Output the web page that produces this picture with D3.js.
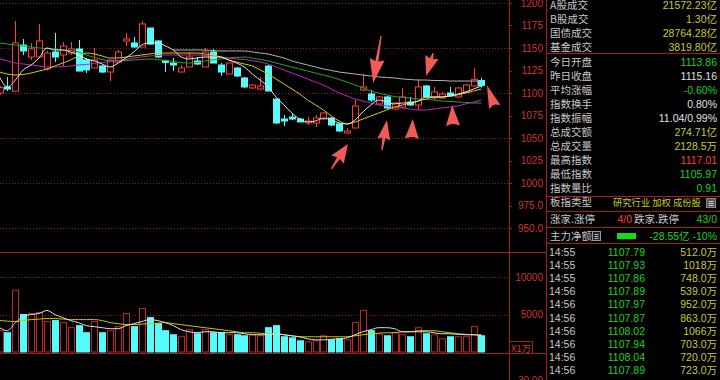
<!DOCTYPE html>
<html>
<head>
<meta charset="utf-8">
<script src="https://cdn.jsdelivr.net/npm/d3@7/dist/d3.min.js"></script>
<style>
html, body { margin: 0; padding: 0; background: #000; overflow: hidden; }
svg { display: block; }
text { font-family: "Liberation Sans", Arial, "Noto Sans CJK SC", sans-serif; }
.cn { font-family: "Noto Sans CJK SC", "Liberation Sans", sans-serif; }
</style>
</head>
<body>
<script>
// daily candles (oldest first)
var opens = [1100, 1106.7, 1102, 1153.3, 1140, 1140, 1126.7, 1145.6, 1142.2, 1144.4,
	1148.9, 1136.7, 1127.8, 1130, 1123.3, 1134.4, 1157.8, 1155.6, 1151.1, 1172.2,
	1157.8, 1136, 1133.3, 1123.3, 1128.9, 1135.6, 1128.9, 1145.6, 1131.1, 1121.1,
	1127.8, 1116.7, 1105.6, 1104.4, 1130, 1093.3, 1071.1, 1073.3, 1071.1, 1066.7,
	1066.7, 1071.1, 1072.2, 1065.6, 1055.6, 1061.1, 1103.3, 1098.9, 1087.8, 1095.6,
	1082.2, 1084.4, 1090, 1086.7, 1107.8, 1094.4, 1094.4, 1100, 1095.6, 1101.1,
	1107.8, 1113.86]
var highs = [1108, 1117.8, 1180, 1160, 1155.6, 1176.7, 1146.7, 1166.7, 1156.7, 1156.7,
	1158.9, 1138.9, 1150, 1131, 1136.7, 1147.8, 1166.7, 1162.2, 1180, 1172.2,
	1158.9, 1137, 1138.9, 1131.1, 1145.6, 1140, 1150, 1148.9, 1133.3, 1133.3,
	1128.9, 1117.8, 1110, 1117.8, 1131, 1093.3, 1075.6, 1077.8, 1072.2, 1073.3,
	1075.6, 1078.9, 1073.3, 1066.7, 1061.1, 1092.2, 1121.1, 1103.3, 1096.7, 1096.7,
	1090, 1105.6, 1095.6, 1115.6, 1108.9, 1106.7, 1101.1, 1106.7, 1106.7, 1110,
	1127.8, 1117.01]
var lows = [1098, 1102.2, 1102, 1142, 1136.7, 1140, 1125, 1134.4, 1130, 1142.2,
	1124.4, 1122.2, 1127.8, 1122.2, 1113.3, 1134.4, 1152.2, 1150, 1151.1, 1153.3,
	1138.9, 1123.3, 1124.4, 1123.3, 1128.9, 1131.1, 1128.9, 1133.3, 1118.9, 1121.1,
	1117.8, 1105.6, 1104.4, 1103.3, 1102.2, 1065.6, 1063.3, 1070, 1067.8, 1064.4,
	1062.2, 1070, 1063.3, 1056.7, 1054.4, 1061.1, 1102.2, 1090, 1086.7, 1082.2,
	1081.1, 1083.3, 1085.6, 1081.1, 1095.6, 1092.2, 1093.3, 1095.6, 1094.4, 1100,
	1106.7, 1105.97]
var closes = [1106, 1104.4, 1155.6, 1146.7, 1149, 1157.8, 1144.4, 1140, 1152.2, 1148.9,
	1124.4, 1125.6, 1136.7, 1123.3, 1136.7, 1145.6, 1160, 1151.1, 1176.7, 1154.4,
	1140, 1134, 1131.1, 1127.8, 1140, 1132.2, 1145.6, 1133.3, 1123.3, 1133.3,
	1118.9, 1106.7, 1108.9, 1107.8, 1102.2, 1066.7, 1068.9, 1071.1, 1067.8, 1068.9,
	1072.2, 1077.8, 1064.4, 1057.8, 1057.8, 1085.6, 1106.7, 1092.2, 1095.6, 1083.3,
	1088.9, 1095.6, 1086.7, 1106.7, 1095.6, 1101.1, 1098.9, 1096.7, 1105.6, 1108.9,
	1115.16, 1108.47]
// volume, in 10k shares
var volumes = [2840, 2570, 8240, 5000, 5130, 5270, 4050, 4190, 3920, 3240,
	3510, 2570, 4050, 2570, 2840, 3380, 5130, 3380, 5810, 4590,
	3780, 2840, 2300, 2030, 2970, 2430, 2970, 2570, 2570, 2300,
	2300, 2160, 2300, 2160, 3240, 3510, 2030, 1890, 1490, 1350,
	1490, 2160, 1620, 1760, 1620, 3920, 5540, 2840, 2430, 2160,
	2570, 2300, 2030, 3240, 2430, 2300, 1760, 2030, 2030, 2030,
	3380, 2160]

// moving average lines as drawn
var ma5 = [1117.8, 1106.7, 1114.4, 1125.6, 1131.1, 1138.9, 1150, 1147.8, 1147.8, 1145.6,
	1142.2, 1137.8, 1135.6, 1132.2, 1128.9, 1133.3, 1138.9, 1145.6, 1153.3, 1155.6,
	1155.6, 1152.2, 1147.8, 1140, 1137.8, 1138.9, 1140, 1140, 1140, 1136.7,
	1133.3, 1128.9, 1121.1, 1114.4, 1106.7, 1095.6, 1086.7, 1077.8, 1071.1, 1067.8,
	1068.9, 1072.2, 1070, 1066.7, 1065.6, 1070, 1078.9, 1086.7, 1092.2, 1090,
	1087.8, 1088.9, 1088.9, 1091.1, 1095.6, 1095.6, 1095.6, 1096.7, 1098.9, 1101.1,
	1104.4, 1107.8]
var ma10 = [1123.3, 1121.1, 1120, 1120.6, 1122.2, 1124.4, 1126.7, 1130, 1133.3, 1136.7,
	1141.1, 1144.4, 1143.3, 1141.1, 1138.9, 1138.9, 1140, 1141.1, 1142.2, 1143.3,
	1144.4, 1144.4, 1144.4, 1144.4, 1144.4, 1144.4, 1143.3, 1142.2, 1140, 1136.7,
	1134.4, 1132.2, 1130, 1125.6, 1121.1, 1115.6, 1110, 1104.4, 1098.9, 1092.2,
	1086.7, 1081.1, 1074.4, 1068.9, 1065.6, 1067.8, 1071.1, 1074.4, 1077.8, 1081.1,
	1084.4, 1086.7, 1088.9, 1091.1, 1093.3, 1095.6, 1095.6, 1096.7, 1097.8, 1100,
	1102.2, 1104.4]
var ma20 = [1137.8, 1135.6, 1133.3, 1132.2, 1131.1, 1130, 1128.9, 1128.9, 1129.4, 1130,
	1131.1, 1131.7, 1132.8, 1133.9, 1135, 1136.1, 1137.2, 1138.9, 1140, 1141.1,
	1141.7, 1142.2, 1142.2, 1142.2, 1142.2, 1142.2, 1141.7, 1141.1, 1140, 1138.9,
	1137.8, 1137.2, 1136.1, 1134.4, 1132.2, 1128.9, 1125.6, 1122.2, 1118.9, 1115.6,
	1112.2, 1108.9, 1104.4, 1100, 1096.7, 1093.3, 1091.1, 1088.9, 1086.7, 1085.6,
	1084.4, 1083.3, 1082.2, 1081.1, 1081.1, 1082.2, 1083.3, 1084.4, 1085.6, 1087.8,
	1090, 1092.2]
var ma30 = [1155.6, 1154.4, 1153.3, 1152.2, 1151.1, 1150, 1149.4, 1148.9, 1147.8, 1147.2,
	1145.6, 1142.2, 1139.4, 1137.2, 1135.6, 1135.6, 1136.1, 1136.7, 1137.2, 1137.8,
	1137.2, 1136.1, 1135, 1133.9, 1133.3, 1133.9, 1135.6, 1136.7, 1137.8, 1138.9,
	1139.4, 1140, 1138.9, 1137.2, 1135.6, 1133.3, 1131.1, 1128.9, 1126.7, 1124.4,
	1122.2, 1120, 1117.8, 1115, 1112.2, 1108.9, 1105.6, 1102.2, 1100, 1097.8,
	1096.1, 1095, 1094.4, 1093.3, 1092.8, 1092.2, 1091.1, 1090.6, 1090, 1089.4,
	1088.9, 1088.9]
var ma60 = [null, null, null, null, null, null, null, null, null, null,
	null, null, null, null, null, null, null, null, null, null,
	null, null, 1147.8, 1147.8, 1147.8, 1147.8, 1147.8, 1147.2, 1146.7, 1146.7,
	1146.7, 1146.7, 1145.6, 1144.4, 1143.3, 1141.1, 1138.9, 1135.6, 1133.3, 1131.1,
	1128.9, 1126.7, 1125, 1123.3, 1122.2, 1121.1, 1120, 1118.9, 1117.8, 1117.2,
	1116.7, 1115.6, 1115, 1114.4, 1114.4, 1113.9, 1113.9, 1113.3, 1113.3, 1113.3,
	1113.3, 1113.3]
var volMa5 = [3240, 2840, 3920, 4730, 5000, 5130, 5540, 5000, 4590, 4190,
	3920, 3510, 3380, 3240, 3110, 3110, 3510, 3780, 4050, 4320,
	4190, 3920, 3510, 2970, 2700, 2570, 2700, 2700, 2570, 2570,
	2570, 2430, 2300, 2300, 2300, 2430, 2300, 2160, 2030, 1760,
	1620, 1620, 1690, 1760, 1890, 2300, 2700, 2970, 3240, 3240,
	3110, 2700, 2700, 2700, 2700, 2570, 2430, 2430, 2360, 2300,
	2300, 2160]
var volMa10 = [4190, 4120, 4050, 4190, 4320, 4390, 4460, 4460, 4390, 4320,
	4320, 4320, 4320, 4190, 3920, 3780, 3650, 3650, 3720, 3780,
	3850, 3920, 3780, 3650, 3510, 3380, 3240, 3110, 2970, 2840,
	2700, 2570, 2570, 2500, 2430, 2430, 2300, 2160, 2030, 2030,
	2030, 2030, 2030, 2030, 2030, 2160, 2300, 2430, 2500, 2570,
	2570, 2700, 2700, 2840, 2840, 2840, 2700, 2570, 2430, 2360,
	2300, 2300]

var priceTicks = [1200, 1175, 1150, 1125, 1100, 1075, 1050, 1025, 1000, 975, 950]
var priceGrid = [1200, 1150, 1100, 1050, 1000, 950]
var volTicks = [10000, 5000]

// hand drawn arrows: [candle index, price] of tail and tip
var arrows = [
	{ tail: [48.3, 1163.3], tip: [47.3, 1111.1], head: 22, width: 15 },
	{ tail: [54.9, 1144.4], tip: [54.0, 1118.9], head: 18, width: 14 },
	{ tail: [42.0, 1015.6], tip: [44.1, 1043.3], head: 17, width: 15 },
	{ tail: [48.4, 1036.7], tip: [49.05, 1070.0], head: 18, width: 13 },
	{ tail: [52.2, 1051.1], tip: [52.3, 1071.1], head: 20, width: 14 },
	{ tail: [57.4, 1065.6], tip: [57.3, 1086.7], head: 21, width: 14 },
	{ tail: [62.6, 1086.7], tip: [61.7, 1108.9], head: 22, width: 12 }
]

// right hand quote panel
var marketNames = ['A股成交', 'B股成交', '国债成交', '基金成交']
var marketValues = ['21572.23亿', '1.30亿', '28764.28亿', '3819.80亿']
var statNames = ['今日开盘', '昨日收盘', '平均涨幅', '指数换手', '指数振幅', '总成交额', '总成交量', '最高指数', '最低指数', '指数量比']
var statValues = ['1113.86', '1115.16', '-0.60%', '0.80%', '11.04/0.99%', '274.71亿', '2128.5万', '1117.01', '1105.97', '0.91']
var statTones = ['down', 'flat', 'down', 'flat', 'flat', 'amount', 'amount', 'up', 'down', 'down']
var tradeTimes = ['14:55', '14:55', '14:55', '14:56', '14:56', '14:56', '14:56', '14:56', '14:56', '14:56']
var tradePrices = [1107.79, 1107.93, 1107.86, 1107.89, 1107.97, 1107.87, 1108.02, 1107.94, 1108.04, 1107.89]
var tradeVols = ['512.0万', '1018万', '748.0万', '539.0万', '952.0万', '863.0万', '1066万', '703.0万', '720.0万', '723.0万']

var RED = '#ff3c3c'
var CYAN = '#54fcfc'
var LINE = '#a41c1c'
var tones = { up: '#ff3c3c', down: '#1ed21e', flat: '#e0e0e0', amount: '#c8c83c' }

var svg = d3.select('body').append('svg')
	.attr('width', 720)
	.attr('height', 380)

var x = d3.scaleLinear().domain([0, closes.length - 1]).range([-0.45, 481.4])
var y = d3.scaleLinear().domain([950, 1200]).range([228, 3])
var yv = d3.scaleLinear().domain([0, 10000]).range([352, 277])
var bw = 6

svg.append('defs').append('clipPath').attr('id', 'plot')
	.append('rect').attr('x', 0).attr('y', 0).attr('width', 508).attr('height', 380)

var plot = svg.append('g').attr('clip-path', 'url(#plot)')

// dotted grid
plot.selectAll('line.grid').data(priceGrid).enter().append('line')
	.attr('x1', 0).attr('x2', 509)
	.attr('y1', function(d) { return Math.round(y(d)) + 0.5 })
	.attr('y2', function(d) { return Math.round(y(d)) + 0.5 })
	.attr('stroke', '#8a2020').attr('stroke-dasharray', '1,2')
plot.selectAll('line.vgrid').data(volTicks).enter().append('line')
	.attr('x1', 0).attr('x2', 509)
	.attr('y1', function(d) { return Math.round(yv(d)) + 0.5 })
	.attr('y2', function(d) { return Math.round(yv(d)) + 0.5 })
	.attr('stroke', '#8a2020').attr('stroke-dasharray', '1,2')

var idx = d3.range(closes.length)
function isUp(i) { return closes[i] >= opens[i] }

// candles
var candles = plot.append('g').selectAll('g').data(idx).enter().append('g')
candles.append('line')
	.attr('x1', function(i) { return Math.round(x(i)) + 0.5 })
	.attr('x2', function(i) { return Math.round(x(i)) + 0.5 })
	.attr('y1', function(i) { return y(highs[i]) })
	.attr('y2', function(i) { return y(lows[i]) })
	.attr('stroke', function(i) { return isUp(i) ? RED : CYAN })
candles.append('rect')
	.attr('x', function(i) { return Math.round(x(i)) - bw / 2 + 0.5 })
	.attr('y', function(i) { return y(Math.max(opens[i], closes[i])) })
	.attr('width', bw)
	.attr('height', function(i) { return Math.max(1, Math.abs(y(opens[i]) - y(closes[i]))) })
	.attr('fill', function(i) { return isUp(i) ? '#000' : CYAN })
	.attr('stroke', function(i) { return isUp(i) ? RED : CYAN })

// moving averages
var maLines = [
	{ values: ma60, color: '#b4b4b4' },
	{ values: ma30, color: '#1fa81f' },
	{ values: ma20, color: '#c81ec8' },
	{ values: ma10, color: '#d2d200' },
	{ values: ma5, color: '#e6e6e6' }
]
var priceLine = d3.line()
	.defined(function(d) { return d != null })
	.x(function(d, i) { return x(i) })
	.y(function(d) { return y(d) })
	.curve(d3.curveMonotoneX)
plot.selectAll('path.ma').data(maLines).enter().append('path')
	.attr('d', function(d) { return priceLine(d.values) })
	.attr('fill', 'none')
	.attr('stroke', function(d) { return d.color })
	.attr('stroke-width', 1)

// volume bars
plot.append('g').selectAll('rect').data(idx).enter().append('rect')
	.attr('x', function(i) { return Math.round(x(i)) - bw / 2 + 0.5 })
	.attr('y', function(i) { return yv(volumes[i]) })
	.attr('width', bw)
	.attr('height', function(i) { return yv(0) - yv(volumes[i]) })
	.attr('fill', function(i) { return isUp(i) ? '#000' : CYAN })
	.attr('stroke', function(i) { return isUp(i) ? '#c02828' : CYAN })

var volLine = d3.line()
	.x(function(d, i) { return x(i) })
	.y(function(d) { return yv(d) })
	.curve(d3.curveMonotoneX)
plot.selectAll('path.vma').data([{ values: volMa10, color: '#c8c800' }, { values: volMa5, color: '#e0e0e0' }])
	.enter().append('path')
	.attr('d', function(d) { return volLine(d.values) })
	.attr('fill', 'none')
	.attr('stroke', function(d) { return d.color })

// arrows
function arrowPath(a) {
	var x1 = x(a.tail[0]), y1 = y(a.tail[1]), x2 = x(a.tip[0]), y2 = y(a.tip[1])
	var len = Math.hypot(x2 - x1, y2 - y1)
	var ux = (x2 - x1) / len, uy = (y2 - y1) / len
	var nx = -uy, ny = ux
	var head = Math.min(a.head, len)
	var bx = x2 - ux * head, by = y2 - uy * head
	var wx = x2 - ux * head * 1.1, wy = y2 - uy * head * 1.1
	var s = 1.6, t = 0.6
	var p = []
	if (len - head > 1) {
		p.push([x1 + nx * t, y1 + ny * t])
		p.push([bx + nx * s, by + ny * s])
	} else {
		p.push([bx + nx * s, by + ny * s])
	}
	p.push([wx + nx * a.width / 2, wy + ny * a.width / 2])
	p.push([x2, y2])
	p.push([wx - nx * a.width / 2, wy - ny * a.width / 2])
	p.push([bx - nx * s, by - ny * s])
	if (len - head > 1) p.push([x1 - nx * t, y1 - ny * t])
	return 'M' + p.map(function(q) { return q[0].toFixed(1) + ',' + q[1].toFixed(1) }).join('L') + 'Z'
}
svg.selectAll('path.arrow').data(arrows).enter().append('path')
	.attr('d', arrowPath)
	.attr('fill', '#f25a5a')

// frame lines
var frame = svg.append('g').attr('stroke', LINE).attr('shape-rendering', 'crispEdges')
frame.append('line').attr('x1', 509.5).attr('x2', 509.5).attr('y1', 0).attr('y2', 380)
frame.append('line').attr('x1', 546.5).attr('x2', 546.5).attr('y1', 0).attr('y2', 380)
frame.append('line').attr('x1', 0).attr('x2', 547).attr('y1', 252.5).attr('y2', 252.5)
frame.append('line').attr('x1', 0).attr('x2', 547).attr('y1', 353.5).attr('y2', 353.5)
frame.append('rect').attr('x', 509.5).attr('y', 341.5).attr('width', 23).attr('height', 12).attr('fill', 'none')
frame.selectAll('line.rule').data([53.5, 196.5, 211.5, 227.5, 243.5]).enter().append('line')
	.attr('x1', 546).attr('x2', 720)
	.attr('y1', function(d) { return d }).attr('y2', function(d) { return d })

// axis labels
var fmtPrice = function(v) { return v >= 1000 ? d3.format('d')(v) : d3.format('.1f')(v) }
var axis = svg.append('g').attr('font-size', 10).attr('fill', '#d23232').attr('text-anchor', 'end')
axis.selectAll('text.p').data(priceTicks).enter().append('text')
	.attr('x', 543).attr('y', function(d) { return y(d) + 3.5 })
	.text(fmtPrice)
axis.selectAll('text.v').data(volTicks).enter().append('text')
	.attr('x', 543).attr('y', function(d) { return yv(d) + 3.5 })
	.text(function(d) { return d })
axis.append('text').attr('x', 543).attr('y', 384).text('30.00')
axis.append('text').attr('class', 'cn').attr('x', 521).attr('y', 351.5).attr('text-anchor', 'middle')
	.attr('font-size', 9.5).text('X1万')
svg.append('g').attr('stroke', LINE).selectAll('line').data(priceTicks).enter().append('line')
	.attr('x1', 509).attr('x2', 512)
	.attr('y1', function(d) { return Math.round(y(d)) + 0.5 })
	.attr('y2', function(d) { return Math.round(y(d)) + 0.5 })

// quote panel
var panel = svg.append('g').attr('font-size', 10.5)
panel.selectAll('text.mn').data(marketNames).enter().append('text')
	.attr('class', 'cn').attr('x', 550).attr('y', function(d, i) { return 9 + i * 14 })
	.attr('fill', '#c8c8c8').text(function(d) { return d })
panel.selectAll('text.mv').data(marketValues).enter().append('text')
	.attr('x', 717).attr('y', function(d, i) { return 9 + i * 14 })
	.attr('text-anchor', 'end').attr('fill', tones.amount).text(function(d) { return d })
panel.selectAll('text.sn').data(statNames).enter().append('text')
	.attr('class', 'cn').attr('x', 550).attr('y', function(d, i) { return 66 + i * 14 })
	.attr('fill', '#c8c8c8').text(function(d) { return d })
panel.selectAll('text.sv').data(statValues).enter().append('text')
	.attr('x', 717).attr('y', function(d, i) { return 66 + i * 14 })
	.attr('text-anchor', 'end').attr('fill', function(d, i) { return tones[statTones[i]] })
	.text(function(d) { return d })

var row = panel.append('g')
row.append('text').attr('class', 'cn').attr('x', 550).attr('y', 206).attr('fill', '#c8c8c8').text('板指类型')
row.append('text').attr('class', 'cn').attr('x', 613).attr('y', 206).attr('font-size', 9.3).attr('fill', '#c8c83c').text('研究行业 加权 成份股')
row.append('text').attr('class', 'cn').attr('x', 550).attr('y', 223).attr('fill', '#c8c8c8').text('涨家.涨停')
row.append('text').attr('x', 632).attr('y', 223).attr('text-anchor', 'end').attr('fill', tones.up).text('4/0')
row.append('text').attr('class', 'cn').attr('x', 634).attr('y', 223).attr('fill', '#c8c8c8').text('跌家.跌停')
row.append('text').attr('x', 717).attr('y', 223).attr('text-anchor', 'end').attr('fill', tones.down).text('43/0')
row.append('text').attr('class', 'cn').attr('x', 550).attr('y', 240).attr('fill', '#c8c8c8').text('主力净额')
row.append('text').attr('x', 717).attr('y', 240).attr('text-anchor', 'end').attr('fill', tones.down).text('-28.55亿 -10%')

// small icons and the net flow bar
var icons = svg.append('g')
icons.append('rect').attr('x', 706.5).attr('y', 198.5).attr('width', 9).attr('height', 9).attr('fill', '#555').attr('stroke', '#888')
icons.append('rect').attr('x', 592.5).attr('y', 231.5).attr('width', 8).attr('height', 9).attr('fill', '#222').attr('stroke', '#999')
icons.selectAll('line.ic').data([201.5, 203.5, 205.5]).enter().append('line')
	.attr('x1', 708.5).attr('x2', 713.5).attr('y1', function(d) { return d }).attr('y2', function(d) { return d })
	.attr('stroke', '#ccc')
icons.selectAll('line.ic2').data([234.5, 236.5, 238.5]).enter().append('line')
	.attr('x1', 594.5).attr('x2', 598.5).attr('y1', function(d) { return d }).attr('y2', function(d) { return d })
	.attr('stroke', '#bbb')
icons.append('rect').attr('x', 617).attr('y', 233).attr('width', 19).attr('height', 6).attr('fill', '#10e010')

// latest trades
var trades = panel.append('g').selectAll('g').data(tradeTimes).enter().append('g')
	.attr('transform', function(d, i) { return 'translate(0,' + (256 + i * 13.1) + ')' })
trades.append('text').attr('x', 549).attr('fill', '#c8c8c8').text(function(d) { return d })
trades.append('text').attr('x', 645).attr('text-anchor', 'end').attr('fill', tones.down)
	.text(function(d, i) { return d3.format('.2f')(tradePrices[i]) })
trades.append('text').attr('x', 717).attr('text-anchor', 'end').attr('fill', tones.amount)
	.text(function(d, i) { return tradeVols[i] })
</script>
</body>
</html>
